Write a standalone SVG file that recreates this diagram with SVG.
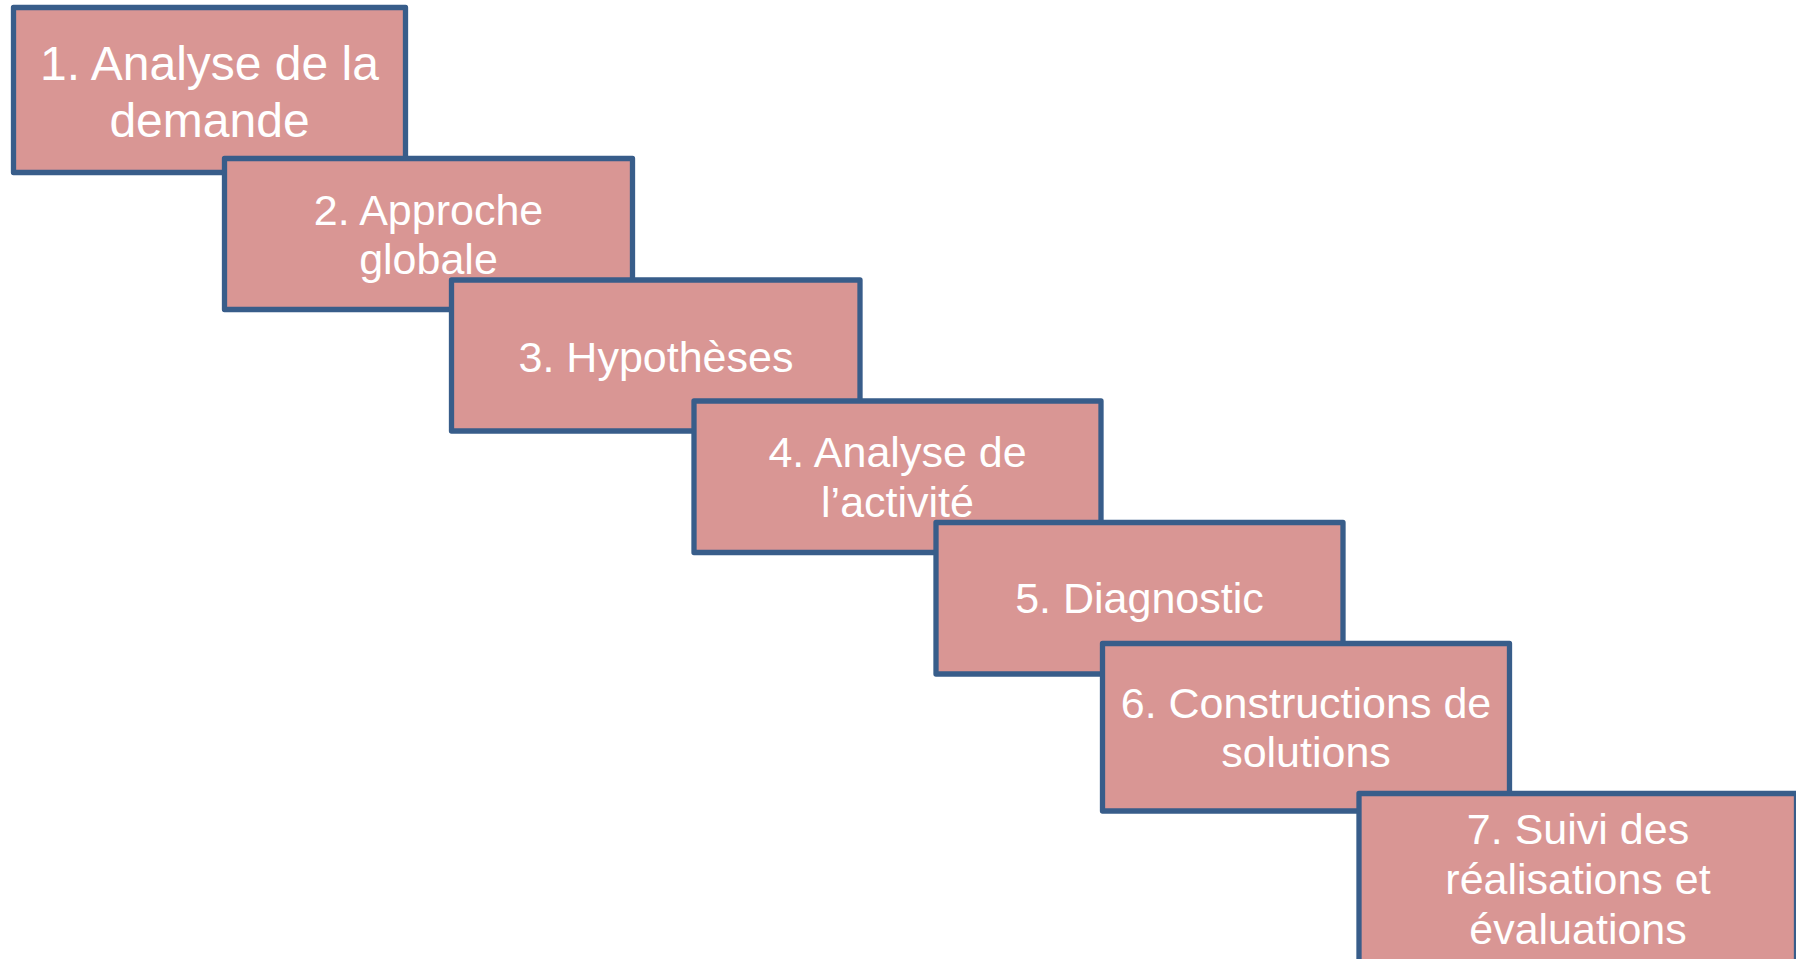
<svg xmlns="http://www.w3.org/2000/svg" width="1796" height="959" viewBox="0 0 1796 959">
<style>
.box{fill:#D99694;stroke:#385D8A;stroke-width:5.3;stroke-linejoin:round}
.t{font-family:"Liberation Sans",Arial,sans-serif;fill:#FFFFFF;text-anchor:middle;font-size:43px}
.t1{font-size:48px}
</style>
<rect width="1796" height="959" fill="#FFFFFF"/>
<g id="connectors"></g>
<g id="node1">
<rect class="box" x="13.5" y="7.5" width="392" height="165"/>
<text class="t t1" x="209.5" y="80">1. Analyse de la</text>
<text class="t t1" x="209.5" y="136.5">demande</text>
</g>
<g id="node2">
<rect class="box" x="224.5" y="158.5" width="408" height="151"/>
<text class="t" x="428.5" y="225">2. Approche</text>
<text class="t" x="428.5" y="274">globale</text>
</g>
<g id="node3">
<rect class="box" x="451.5" y="280" width="408.5" height="151"/>
<text class="t" x="656" y="371.5">3. Hypothèses</text>
</g>
<g id="node4">
<rect class="box" x="694" y="401" width="407" height="151.5"/>
<text class="t" x="897.5" y="466.5">4. Analyse de</text>
<text class="t" x="897.5" y="517">l’activité</text>
</g>
<g id="node5">
<rect class="box" x="936" y="522.5" width="407" height="151.5"/>
<text class="t" x="1139.5" y="613">5. Diagnostic</text>
</g>
<g id="node6">
<rect class="box" x="1102.5" y="643.5" width="407" height="167.5"/>
<text class="t" x="1306" y="717.5">6. Constructions de</text>
<text class="t" x="1306" y="767">solutions</text>
</g>
<g id="node7">
<rect class="box" x="1359" y="793.5" width="437.5" height="200"/>
<text class="t" x="1578" y="843.5">7. Suivi des</text>
<text class="t" x="1578" y="893.5">réalisations et</text>
<text class="t" x="1578" y="944">évaluations</text>
</g>
</svg>
